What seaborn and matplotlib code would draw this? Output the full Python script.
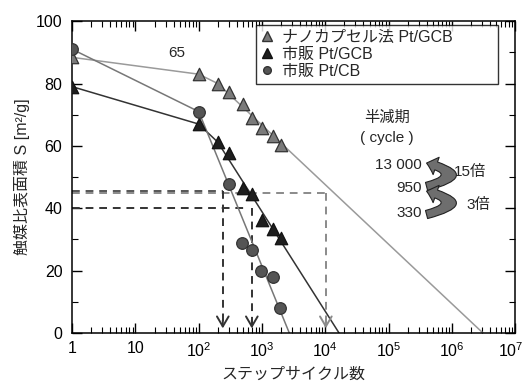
import numpy as np
import pandas as pd
import matplotlib
matplotlib.use("Agg")
import matplotlib.pyplot as plt
import matplotlib.ticker as mticker
import matplotlib.transforms as mtransforms
from matplotlib.lines import Line2D
import seaborn as sns

# --- data ---
tri_x = [1, 100, 200, 300, 500, 700, 1000, 1500, 2000]
nano_y = [88.4, 83, 80, 77.3, 73.3, 68.8, 65.6, 63.2, 60.3]
gcb_y = [79, 67, 61.2, 57.7, 46.4, 44.5, 36.2, 33.2, 30.5]

cb_x = [1, 100, 305, 490, 690, 970, 1510, 1940]
cb_y = [91, 71, 47.8, 28.9, 26.6, 19.9, 18, 7.9]

# guide lines (connect + fit to x-axis)
nano_fit_x = [1, 100, 200, 3.1e6]
nano_fit_y = [88.4, 83, 80, 0]
gcb_fit_x = [1, 100, 200, 1.65e4]
gcb_fit_y = [79, 67, 61.2, 0]
cb_fit_x = [1, 100, 2700]
cb_fit_y = [91, 71, 0]

# half-life read lines
half_levels = [45.5, 44.8, 40]
half_cycles = [240, 10200, 690]

labels = ["ナノカプセル法 Pt/GCB", "市販 Pt/GCB", "市販 Pt/CB"]
x_ticks = [1, 10, 1e2, 1e3, 1e4, 1e5, 1e6, 1e7]
x_tick_labels = ["1", "10", "$10^2$", "$10^3$", "$10^4$", "$10^5$", "$10^6$", "$10^7$"]

sns.set_theme(style="ticks")
plt.rcParams['font.family'] = ['Liberation Sans', 'Noto Sans CJK JP', 'DejaVu Sans']
plt.rcParams['mathtext.fontset'] = 'custom'
plt.rcParams['mathtext.rm'] = 'Liberation Sans'
plt.rcParams['mathtext.it'] = 'Liberation Sans'

FS = 11.5

fig, ax = plt.subplots(figsize=(5.23, 3.85), dpi=100)
fig.subplots_adjust(left=0.138, right=0.985, top=0.945, bottom=0.135)

grey_dash = "#8a8a8a"
dark_dash = "#333333"

# dashed half-life guides
ax.plot([1, half_cycles[0]], [half_levels[0], half_levels[0]], ls=(0, (4, 3)), color="#555555", lw=1.4, zorder=1)
ax.plot([1, half_cycles[1]], [half_levels[1], half_levels[1]], ls=(0, (4, 3)), color=grey_dash, lw=1.4, zorder=1)
ax.plot([1, 540], [half_levels[2], half_levels[2]], ls=(0, (4, 3)), color=dark_dash, lw=1.4, zorder=1)
v_tops = [half_levels[0], half_levels[1], half_levels[2]]
v_cols = [dark_dash, grey_dash, dark_dash]
for xc, top, col in zip(half_cycles, v_tops, v_cols):
    ax.plot([xc, xc], [top, 3], ls=(0, (4, 3)), color=col, lw=1.4, zorder=1)
    ax.annotate("", xy=(xc, 0.6), xytext=(xc, 5),
                arrowprops=dict(arrowstyle="->,head_width=0.35,head_length=0.6", color=col, lw=1.4))

# fit lines
sns.lineplot(x=nano_fit_x, y=nano_fit_y, ax=ax, color="#9a9a9a", lw=1.1, sort=False, zorder=2)
sns.lineplot(x=gcb_fit_x, y=gcb_fit_y, ax=ax, color="#333333", lw=1.1, sort=False, zorder=2)
sns.lineplot(x=cb_fit_x, y=cb_fit_y, ax=ax, color="#777777", lw=1.1, sort=False, zorder=2)

# markers
sns.scatterplot(x=tri_x, y=nano_y, ax=ax, marker="^", s=80, color="#7a7a7a", edgecolor="#333333", linewidth=0.9, zorder=4)
sns.scatterplot(x=tri_x, y=gcb_y, ax=ax, marker="^", s=80, color="#1e1e1e", edgecolor="#111111", linewidth=0.9, zorder=4)
sns.scatterplot(x=cb_x, y=cb_y, ax=ax, marker="o", s=70, color="#555555", edgecolor="#333333", linewidth=0.9, zorder=4)

ax.set_xscale("log")
ax.set_xlim(1, 1e7)
ax.set_ylim(0, 100)
ax.xaxis.set_major_locator(mticker.FixedLocator(x_ticks))
ax.xaxis.set_major_formatter(mticker.FixedFormatter(x_tick_labels))
ax.xaxis.set_minor_locator(mticker.LogLocator(base=10, subs=np.arange(2, 10), numticks=20))
ax.xaxis.set_minor_formatter(mticker.NullFormatter())
ax.yaxis.set_major_locator(mticker.MultipleLocator(20))
ax.yaxis.set_minor_locator(mticker.MultipleLocator(10))
ax.tick_params(which="both", direction="in", top=True, right=True, colors="black", labelsize=FS)
ax.tick_params(which="major", length=7, width=1)
ax.tick_params(which="minor", length=4, width=0.8)
ax.tick_params(axis="x", pad=6)
ax.tick_params(axis="y", pad=7)
for sp in ax.spines.values():
    sp.set_visible(True)
    sp.set_color("black")
    sp.set_linewidth(1.1)

# keep the last x tick label inside the figure
last = ax.get_xticklabels()[-1]
last.set_transform(last.get_transform() + mtransforms.ScaledTranslation(-4 / 100, 0, fig.dpi_scale_trans))

ax.set_xlabel("ステップサイクル数", fontsize=FS, labelpad=5)
ax.set_ylabel("触媒比表面積 S [m²/g]", fontsize=FS, labelpad=4)

# legend
handles = [
    Line2D([], [], marker="^", ls="none", markersize=7, markerfacecolor="#7a7a7a", markeredgecolor="#333333"),
    Line2D([], [], marker="^", ls="none", markersize=7, markerfacecolor="#1e1e1e", markeredgecolor="#111111"),
    Line2D([], [], marker="o", ls="none", markersize=5.5, markerfacecolor="#555555", markeredgecolor="#333333"),
]
leg = ax.legend(handles, labels, loc="upper left", bbox_to_anchor=(0.415, 0.779, 0.547, 0.208),
                mode="expand", fontsize=FS, frameon=True, fancybox=False, edgecolor="black",
                handlelength=0.8, handletextpad=0.5, labelspacing=0.12, borderpad=0.3, borderaxespad=0.0)
leg.get_frame().set_linewidth(1.0)

# annotations
TS = 11
ax.text(0.237, 0.897, "65", transform=ax.transAxes, ha="center", va="center", fontsize=TS)
ax.text(0.711, 0.689, "半減期", transform=ax.transAxes, ha="center", va="center", fontsize=TS)
ax.text(0.711, 0.625, "( cycle )", transform=ax.transAxes, ha="center", va="center", fontsize=TS)
ax.text(0.790, 0.538, "13 000", transform=ax.transAxes, ha="right", va="center", fontsize=TS)
ax.text(0.790, 0.465, "950", transform=ax.transAxes, ha="right", va="center", fontsize=TS)
ax.text(0.790, 0.385, "330", transform=ax.transAxes, ha="right", va="center", fontsize=TS)
ax.text(0.862, 0.516, "15倍", transform=ax.transAxes, ha="left", va="center", fontsize=TS)
ax.text(0.889, 0.410, "3倍", transform=ax.transAxes, ha="left", va="center", fontsize=TS)

for tail, head in [((0.800, 0.470), (0.800, 0.545)), ((0.800, 0.380), (0.800, 0.455))]:
    ax.annotate("", xy=head, xytext=tail, xycoords="axes fraction", textcoords="axes fraction",
                arrowprops=dict(arrowstyle="simple,head_width=1.1,head_length=0.6,tail_width=0.5",
                                connectionstyle="arc3,rad=1.9", facecolor="#6e6e6e",
                                edgecolor="#222222", lw=0.8, shrinkA=0, shrinkB=0))

fig.savefig("out.png", dpi=100)
